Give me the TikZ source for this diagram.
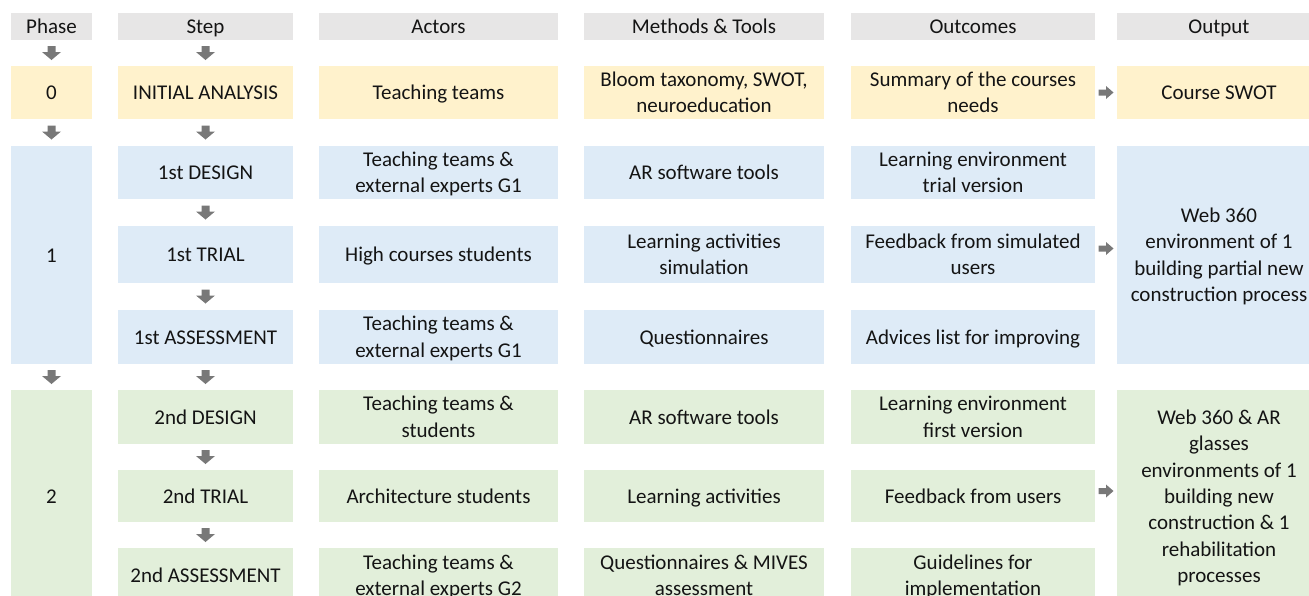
\documentclass[tikz,border=0pt]{standalone}
\usepackage{fontspec}
\setmainfont{Carlito}
\usetikzlibrary{calc}
\definecolor{hdr}{HTML}{E7E6E6}
\definecolor{yel}{HTML}{FFF2CC}
\definecolor{blu}{HTML}{DEEBF7}
\definecolor{grn}{HTML}{E2EFDA}
\definecolor{arr}{HTML}{787878}
\definecolor{txt}{HTML}{141414}
\newcommand\Ls{\rule[-6.2pt]{0pt}{26.4pt}}
\newcommand\NL{\\\Ls}
\begin{document}
\begin{tikzpicture}[x=1pt,y=-1pt,
  every node/.style={font=\fontsize{21}{26.4}\selectfont, text=txt},
  cell/.style={rectangle, inner sep=0pt, align=center, draw=none, execute at begin node=\Ls},
  colP/.style={minimum width=81pt},
  colS/.style={minimum width=175pt},
  colA/.style={minimum width=239pt},
  colM/.style={minimum width=240pt},
  colO/.style={minimum width=244pt},
  colU/.style={minimum width=204pt},
  darr/.pic={\fill[arr] (-4pt,7pt) -- (4pt,7pt) -- (4pt,1pt) -- (9.5pt,1pt) -- (0pt,-7pt) -- (-9.5pt,1pt) -- (-4pt,1pt) -- cycle;},
  rarr/.pic={\fill[arr] (-7.5pt,3pt) -- (0pt,3pt) -- (0pt,6.5pt) -- (7.5pt,0pt) -- (0pt,-6.5pt) -- (0pt,-3pt) -- (-7.5pt,-3pt) -- cycle;}
]
\useasboundingbox (0,0) rectangle (1309,595);
\clip (0,0) rectangle (1309,595);
% header
\node[cell,fill=hdr,colP,minimum height=27pt] (hp) at (51.5,26.5) {Phase};
\node[cell,fill=hdr,colS,minimum height=27pt] (hs) at (205.5,26.5) {Step};
\node[cell,fill=hdr,colA,minimum height=27pt] (ha) at (438.5,26.5) {Actors};
\node[cell,fill=hdr,colM,minimum height=27pt] (hm) at (704,26.5) {Methods \& Tools};
\node[cell,fill=hdr,colO,minimum height=27pt] (ho) at (973,26.5) {Outcomes};
\node[cell,fill=hdr,colU,minimum height=27pt] (hu) at (1219,26.5) {Output};
% phase 0
\node[cell,fill=yel,colP,minimum height=53pt] (p0) at (51.5,92.5) {0};
\node[cell,fill=yel,colS,minimum height=53pt] (s0) at (205.5,92.5) {INITIAL ANALYSIS};
\node[cell,fill=yel,colA,minimum height=53pt] (a0) at (438.5,92.5) {Teaching teams};
\node[cell,fill=yel,colM,minimum height=53pt] (m0) at (704,92.5) {\Ls Bloom taxonomy, SWOT,\NL neuroeducation};
\node[cell,fill=yel,colO,minimum height=53pt] (o0) at (973,92.5) {\Ls Summary of the courses\NL needs};
\node[cell,fill=yel,colU,minimum height=53pt] (u0) at (1219,92.5) {Course SWOT};
% phase 1
\node[cell,fill=blu,colP,minimum height=218pt] (p1) at (51.5,255) {1};
\node[cell,fill=blu,colS,minimum height=53pt] (s1a) at (205.5,172.5) {1st DESIGN};
\node[cell,fill=blu,colA,minimum height=53pt] (a1a) at (438.5,172.5) {\Ls Teaching teams \&\NL external experts G1};
\node[cell,fill=blu,colM,minimum height=53pt] (m1a) at (704,172.5) {AR software tools};
\node[cell,fill=blu,colO,minimum height=53pt] (o1a) at (973,172.5) {\Ls Learning environment\NL trial version};
\node[cell,fill=blu,colS,minimum height=57pt] (s1b) at (205.5,254.5) {1st TRIAL};
\node[cell,fill=blu,colA,minimum height=57pt] (a1b) at (438.5,254.5) {High courses students};
\node[cell,fill=blu,colM,minimum height=57pt] (m1b) at (704,254.5) {\Ls Learning activities\NL simulation};
\node[cell,fill=blu,colO,minimum height=57pt] (o1b) at (973,254.5) {\Ls Feedback from simulated\NL users};
\node[cell,fill=blu,colS,minimum height=54pt] (s1c) at (205.5,337) {1st ASSESSMENT};
\node[cell,fill=blu,colA,minimum height=54pt] (a1c) at (438.5,337) {\Ls Teaching teams \&\NL external experts G1};
\node[cell,fill=blu,colM,minimum height=54pt] (m1c) at (704,337) {Questionnaires};
\node[cell,fill=blu,colO,minimum height=54pt] (o1c) at (973,337) {Advices list for improving};
\node[cell,fill=blu,colU,minimum height=218pt] (u1) at (1219,255) {\Ls Web 360\NL environment of 1\NL building partial new\NL construction process};
% phase 2
\node[cell,fill=grn,colP,minimum height=213pt] (p2) at (51.5,496.5) {2};
\node[cell,fill=grn,colS,minimum height=54pt] (s2a) at (205.5,417) {2nd DESIGN};
\node[cell,fill=grn,colA,minimum height=54pt] (a2a) at (438.5,417) {\Ls Teaching teams \&\NL students};
\node[cell,fill=grn,colM,minimum height=54pt] (m2a) at (704,417) {AR software tools};
\node[cell,fill=grn,colO,minimum height=54pt] (o2a) at (973,417) {\Ls Learning environment\NL first version};
\node[cell,fill=grn,colS,minimum height=52pt] (s2b) at (205.5,496) {2nd TRIAL};
\node[cell,fill=grn,colA,minimum height=52pt] (a2b) at (438.5,496) {Architecture students};
\node[cell,fill=grn,colM,minimum height=52pt] (m2b) at (704,496) {Learning activities};
\node[cell,fill=grn,colO,minimum height=52pt] (o2b) at (973,496) {Feedback from users};
\node[cell,fill=grn,colS,minimum height=55pt] (s2c) at (205.5,575.5) {2nd ASSESSMENT};
\node[cell,fill=grn,colA,minimum height=55pt] (a2c) at (438.5,575.5) {\Ls Teaching teams \&\NL external experts G2};
\node[cell,fill=grn,colM,minimum height=55pt] (m2c) at (704,575.5) {\Ls Questionnaires \& MIVES\NL assessment};
\node[cell,fill=grn,colO,minimum height=55pt] (o2c) at (973,575.5) {\Ls Guidelines for\NL implementation};
\node[cell,fill=grn,colU,minimum height=213pt] (u2) at (1219,496.5) {\Ls Web 360 \& AR\NL glasses\NL environments of 1\NL building new\NL construction \& 1\NL rehabilitation\NL processes};
% down arrows
\pic at ($(hp.south)!0.5!(p0.north)$) {darr};
\pic at ($(p0.south)!0.5!(p1.north)$) {darr};
\pic at ($(p1.south)!0.5!(p2.north)$) {darr};
\pic at ($(hs.south)!0.5!(s0.north)$) {darr};
\pic at ($(s0.south)!0.5!(s1a.north)$) {darr};
\pic at ($(s1a.south)!0.5!(s1b.north)$) {darr};
\pic at ($(s1b.south)!0.5!(s1c.north)$) {darr};
\pic at ($(s1c.south)!0.5!(s2a.north)$) {darr};
\pic at ($(s2a.south)!0.5!(s2b.north)$) {darr};
\pic at ($(s2b.south)!0.5!(s2c.north)$) {darr};
% right arrows
\pic at ($(o0.east)!0.5!(u0.west)$) {rarr};
\pic at ([yshift=6pt]$(o1b.east)!0.5!(u1.west |- o1b.east)$) {rarr};
\pic at ([yshift=5pt]$(o2b.east)!0.5!(u2.west |- o2b.east)$) {rarr};
\end{tikzpicture}
\end{document}
